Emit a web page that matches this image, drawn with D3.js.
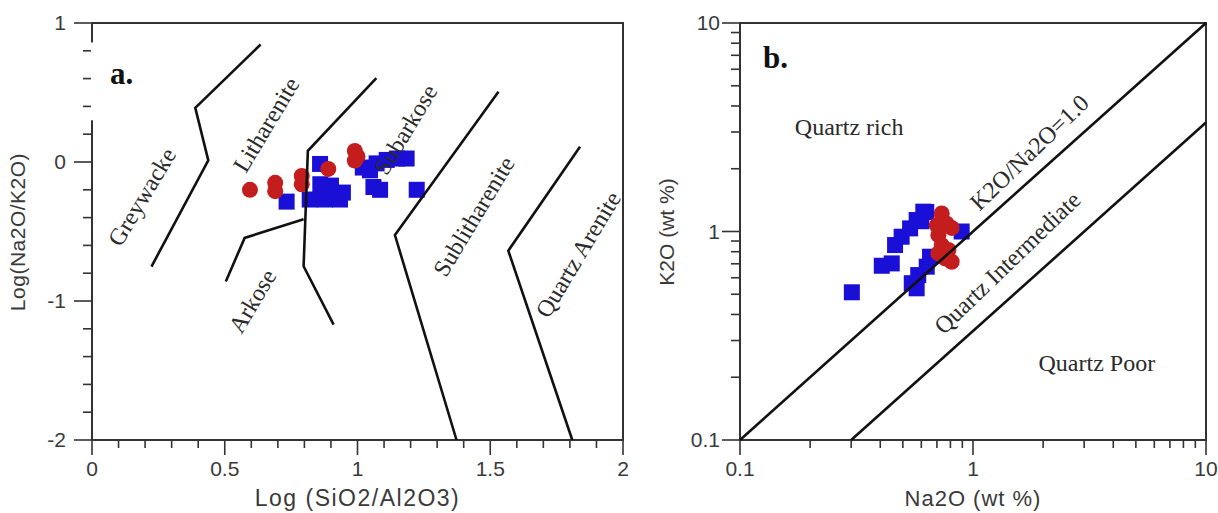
<!DOCTYPE html>
<html><head><meta charset="utf-8">
<script src="https://cdn.jsdelivr.net/npm/d3@7"></script>
<style>
html,body{margin:0;padding:0;background:#fff;}
svg{display:block;}
.tick-label{font-family:"Liberation Sans",Arial,sans-serif;font-size:21px;fill:#3a3a3a;}
.axis-title{font-family:"Liberation Sans",Arial,sans-serif;fill:#3a3a3a;}
.region{font-family:"Liberation Serif","Times New Roman",serif;font-size:24px;fill:#2a2a2a;}
.panel{font-family:"Liberation Serif","Times New Roman",serif;font-size:31px;font-weight:bold;fill:#111;}
</style></head>
<body>
<svg id="chart" width="1218" height="513"></svg>
<script>
// ---------- Panel a data ----------
const aXTicks = [0, 0.5, 1, 1.5, 2];
const aYTicks = [1, 0, -1, -2];
const aRedX = [0.595, 0.69, 0.69, 0.79, 0.79, 0.89, 0.99, 0.99, 1.0];
const aRedY = [-0.20, -0.15, -0.21, -0.10, -0.16, -0.05, 0.08, 0.01, 0.04];
const aBlueX = [0.733, 0.82, 0.877, 0.934, 0.859, 0.86, 0.90, 0.945, 1.02, 1.047, 1.072, 1.11, 1.15, 1.185, 1.06, 1.085, 1.223];
const aBlueY = [-0.285, -0.27, -0.27, -0.27, -0.014, -0.16, -0.17, -0.22, -0.04, -0.06, -0.01, 0.015, 0.025, 0.025, -0.18, -0.20, -0.20];
// boundary lines (Log SiO2/Al2O3, Log Na2O/K2O)
const aBoundary1 = [[0.635, 0.845], [0.389, 0.39], [0.438, 0.012], [0.224, -0.752]];
const aBoundary2 = [[1.071, 0.604], [0.813, 0.08], [0.797, -0.75], [0.91, -1.17]];
const aBoundary3 = [[0.504, -0.86], [0.575, -0.546], [0.797, -0.412]];
const aBoundary4 = [[1.531, 0.506], [1.141, -0.526], [1.373, -2.0]];
const aBoundary5 = [[1.838, 0.11], [1.568, -0.638], [1.809, -2.0]];
const aRegionNames = ["Greywacke", "Litharenite", "Subarkose", "Sublitharenite", "Arkose", "Quartz Arenite"];
const aRegionX = [0.187, 0.655, 1.18, 1.437, 0.603, 1.83];
const aRegionY = [-0.25, 0.27, 0.235, -0.39, -1.0, -0.665];

// ---------- Panel b data ----------
const bTicks = [0.1, 1, 10];
const bTickLabels = ["0.1", "1", "10"];
const bBlueX = [0.302, 0.406, 0.448, 0.463, 0.494, 0.537, 0.573, 0.612, 0.63, 0.546, 0.573, 0.582, 0.633, 0.654, 0.894, 0.60];
const bBlueY = [0.511, 0.685, 0.703, 0.861, 0.944, 1.035, 1.135, 1.245, 1.24, 0.565, 0.534, 0.618, 0.678, 0.757, 1.0, 1.12];
const bRedX = [0.734, 0.771, 0.81, 0.71, 0.734, 0.71, 0.759, 0.81, 0.784, 0.699];
const bRedY = [1.22, 1.09, 1.04, 0.96, 0.861, 0.786, 0.743, 0.716, 0.815, 1.07];
const bLine1 = [[0.1, 0.1], [10, 10]];
const bLine2 = [[0.3, 0.1], [10, 3.33]];
const bRegionNames = ["Quartz rich", "K2O/Na2O=1.0", "Quartz Intermediate", "Quartz Poor"];
const bRegionX = [0.294, 1.74, 1.40, 3.40];
const bRegionY = [3.17, 2.40, 0.71, 0.234];
const bRegionRot = [0, -44, -44, 0];

const BLUE = "#1a0fd6", RED = "#c41d1d", LINE = "#111";
const MS = 16; // marker size
const svg = d3.select("#chart");

// ================= Panel a =================
const ax = d3.scaleLinear().domain([0, 2]).range([92, 623]);
const ay = d3.scaleLinear().domain([-2, 1]).range([440, 23]);
const ga = svg.append("g");

ga.append("rect").attr("x", ax(0)).attr("y", ay(1)).attr("width", ax(2) - ax(0)).attr("height", ay(-2) - ay(1))
  .attr("fill", "none").attr("stroke", "#333").attr("stroke-width", 2);
// white gap on the left axis line, as in the scanned original
ga.append("rect").attr("x", ax(0) - 1.5).attr("y", ay(0.86)).attr("width", 3).attr("height", ay(0.3) - ay(0.86)).attr("fill", "#fff");

const aXMinor = d3.range(0, 2.0001, 0.1);
ga.selectAll(".axm").data(aXMinor).join("line")
  .attr("x1", d => ax(d)).attr("x2", d => ax(d)).attr("y1", ay(-2)).attr("y2", d => ay(-2) + (Math.abs(d * 2 - Math.round(d * 2)) < 1e-6 ? 15 : 8))
  .attr("stroke", "#333").attr("stroke-width", 1.6);
ga.selectAll(".axl").data(aXTicks).join("text").attr("class", "tick-label")
  .attr("x", d => ax(d)).attr("y", ay(-2) + 36).attr("text-anchor", "middle").text(d => d);
const aYMinor = d3.range(-2, 1.0001, 0.2).map(v => Math.round(v * 10) / 10);
ga.selectAll(".aym").data(aYMinor).join("line")
  .attr("y1", d => ay(d)).attr("y2", d => ay(d)).attr("x1", ax(0) - 1).attr("x2", d => ax(0) - (Math.abs(d - Math.round(d)) < 1e-6 ? 18 : 9))
  .attr("stroke", "#333").attr("stroke-width", 1.6);
ga.selectAll(".ayl").data(aYTicks).join("text").attr("class", "tick-label")
  .attr("x", ax(0) - 26).attr("y", d => ay(d) + 7).attr("text-anchor", "end").text(d => d);

ga.append("text").attr("class", "axis-title").style("font-size", "23px").style("letter-spacing", "1.5px")
  .attr("x", ax(1)).attr("y", 506).attr("text-anchor", "middle").text("Log (SiO2/Al2O3)");
ga.append("text").attr("class", "axis-title").style("font-size", "21px").style("letter-spacing", "0.5px")
  .attr("transform", `translate(25,232) rotate(-90)`).attr("text-anchor", "middle").text("Log(Na2O/K2O)");

ga.selectAll(".ab").data(aBlueX).join("rect")
  .attr("x", d => ax(d) - MS / 2).attr("y", (d, i) => ay(aBlueY[i]) - MS / 2).attr("width", MS).attr("height", MS).attr("fill", BLUE);
ga.selectAll(".ar").data(aRedX).join("circle")
  .attr("cx", d => ax(d)).attr("cy", (d, i) => ay(aRedY[i])).attr("r", MS / 2).attr("fill", RED);

const aLine = d3.line().x(d => ax(d[0])).y(d => ay(d[1]));
[aBoundary1, aBoundary2, aBoundary3, aBoundary4, aBoundary5].forEach(b => {
  ga.append("path").attr("d", aLine(b)).attr("fill", "none").attr("stroke", LINE).attr("stroke-width", 2.6);
});

ga.selectAll(".arl").data(aRegionNames).join("text").attr("class", "region")
  .attr("text-anchor", "middle")
  .attr("transform", (d, i) => `translate(${ax(aRegionX[i])},${ay(aRegionY[i])}) rotate(-59)`)
  .attr("dy", "0.35em").text(d => d);

ga.append("text").attr("class", "panel").attr("x", 110).attr("y", 84).text("a.");

// ================= Panel b =================
const bx = d3.scaleLog().domain([0.1, 10]).range([740, 1206]);
const by = d3.scaleLog().domain([0.1, 10]).range([440, 23]);
const gb = svg.append("g");

gb.append("rect").attr("x", bx(0.1)).attr("y", by(10)).attr("width", bx(10) - bx(0.1)).attr("height", by(0.1) - by(10))
  .attr("fill", "none").attr("stroke", "#333").attr("stroke-width", 2);

const bMinor = [];
[0.1, 1].forEach(dec => { for (let k = 1; k <= 10; k++) bMinor.push(+(dec * k).toFixed(3)); });
const uniqMinor = Array.from(new Set(bMinor));
const isMajor = v => bTicks.some(t => Math.abs(t - v) < 1e-9);
gb.selectAll(".bxm").data(uniqMinor).join("line")
  .attr("x1", d => bx(d)).attr("x2", d => bx(d)).attr("y1", by(0.1)).attr("y2", d => by(0.1) + (isMajor(d) ? 15 : 8))
  .attr("stroke", "#333").attr("stroke-width", 1.6);
gb.selectAll(".bym").data(uniqMinor).join("line")
  .attr("y1", d => by(d)).attr("y2", d => by(d)).attr("x1", bx(0.1)).attr("x2", d => bx(0.1) - (isMajor(d) ? 18 : 9))
  .attr("stroke", "#333").attr("stroke-width", 1.6);
gb.selectAll(".bxl").data(bTicks).join("text").attr("class", "tick-label")
  .attr("x", d => bx(d)).attr("y", by(0.1) + 36).attr("text-anchor", "middle").text((d, i) => bTickLabels[i]);
gb.selectAll(".byl").data(bTicks).join("text").attr("class", "tick-label")
  .attr("x", bx(0.1) - 20).attr("y", d => by(d) + 7).attr("text-anchor", "end").text((d, i) => bTickLabels[i]);

gb.append("text").attr("class", "axis-title").style("font-size", "22px").style("letter-spacing", "1px")
  .attr("x", bx(1)).attr("y", 506).attr("text-anchor", "middle").text("Na2O (wt %)");
gb.append("text").attr("class", "axis-title").style("font-size", "21px")
  .attr("transform", `translate(674,232) rotate(-90)`).attr("text-anchor", "middle").text("K2O (wt %)");

gb.selectAll(".bb").data(bBlueX).join("rect")
  .attr("x", d => bx(d) - MS / 2).attr("y", (d, i) => by(bBlueY[i]) - MS / 2).attr("width", MS).attr("height", MS).attr("fill", BLUE);
gb.selectAll(".br").data(bRedX).join("circle")
  .attr("cx", d => bx(d)).attr("cy", (d, i) => by(bRedY[i])).attr("r", MS / 2).attr("fill", RED);

const bLine = d3.line().x(d => bx(d[0])).y(d => by(d[1]));
[bLine1, bLine2].forEach(l => gb.append("path").attr("d", bLine(l)).attr("fill", "none").attr("stroke", LINE).attr("stroke-width", 2.6));

gb.selectAll(".brl").data(bRegionNames).join("text").attr("class", "region")
  .attr("text-anchor", "middle")
  .attr("transform", (d, i) => `translate(${bx(bRegionX[i])},${by(bRegionY[i])}) rotate(${bRegionRot[i]})`)
  .attr("dy", "0.35em").text(d => d);

gb.append("text").attr("class", "panel").attr("x", 763).attr("y", 68).text("b.");
</script>
</body></html>
